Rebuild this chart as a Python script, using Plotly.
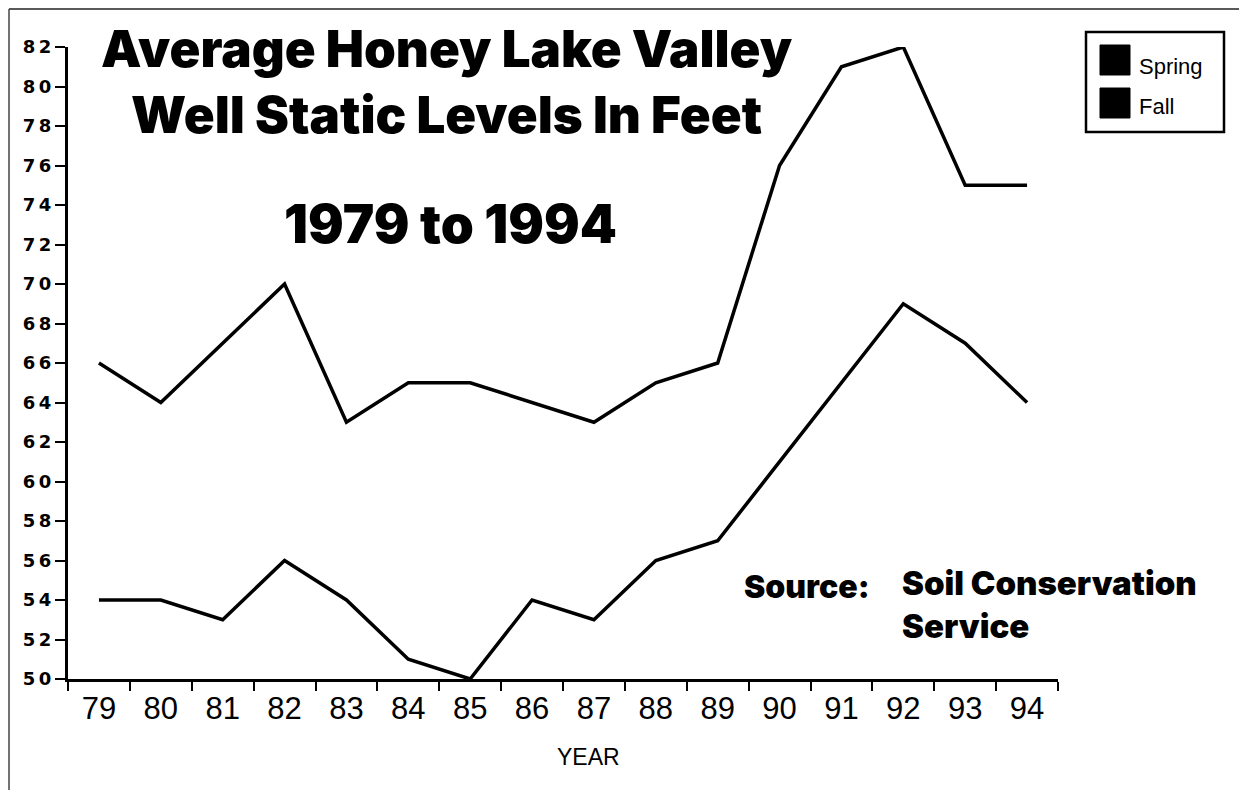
import plotly.graph_objects as go

years = ["79", "80", "81", "82", "83", "84", "85", "86", "87", "88", "89", "90", "91", "92", "93", "94"]
fall = [66, 64, 67, 70, 63, 65, 65, 64, 63, 65, 66, 76, 81, 82, 75, 75]
spring = [54, 54, 53, 56, 54, 51, 50, 54, 53, 56, 57, 61, 65, 69, 67, 64]
series_names = ["Spring", "Fall"]
y_ticks = list(range(50, 84, 2))

OFF = 8  # default page body margin
W, H = 1247 - OFF, 790 - OFF
L, R, T, B = 68 - OFF, 1058 - OFF, 47 - OFF, 679 - OFF


def px(x):
    return (x - OFF - L) / (R - L)


def py(y):
    return (B - (y - OFF)) / (B - T)


fig = go.Figure()
fig.add_trace(go.Scatter(x=years, y=fall, mode="lines", name=series_names[1],
                         line=dict(color="black", width=3.5), showlegend=False))
fig.add_trace(go.Scatter(x=years, y=spring, mode="lines", name=series_names[0],
                         line=dict(color="black", width=3.5), showlegend=False))

heavy = dict(family="Inter, Roboto, Arial Black, sans-serif", color="black", weight=900)
plain = dict(family="Liberation Sans, Arial, sans-serif", color="black")


def note(text, x, y, size, font, anchor="center"):
    return dict(text=text, x=px(x), y=py(y), xref="paper", yref="paper", showarrow=False,
                xanchor=anchor, yanchor="middle", align="center" if anchor == "center" else "left",
                font=dict(size=size, **font))


annotations = [
    note("Average Honey Lake Valley<br>Well Static Levels In Feet", 447, 82, 51, heavy),
    note("1979 to 1994", 450, 224, 53, heavy),
    note("Source:", 742, 586, 32, heavy, "left"),
    note("Soil Conservation<br>Service", 900, 604, 33, heavy, "left"),
    note("YEAR", 588, 757, 23, plain),
]

# legend box drawn manually
shapes = [
    dict(type="rect", xref="paper", yref="paper", x0=px(1086), x1=px(1224), y0=py(32), y1=py(132),
         line=dict(color="black", width=2.5), fillcolor="white"),
    dict(type="rect", xref="paper", yref="paper", x0=px(1100), x1=px(1130), y0=py(45), y1=py(75),
         line=dict(color="black", width=1), fillcolor="black"),
    dict(type="rect", xref="paper", yref="paper", x0=px(1100), x1=px(1130), y0=py(88), y1=py(118),
         line=dict(color="black", width=1), fillcolor="black"),
    # page border
    dict(type="line", xref="paper", yref="paper", x0=px(9), x1=px(1247), y0=py(9), y1=py(9),
         line=dict(color="#222", width=1.5)),
    dict(type="line", xref="paper", yref="paper", x0=px(9), x1=px(9), y0=py(9), y1=py(790),
         line=dict(color="#444", width=1.5)),
]
for name, yy in zip(series_names, [67, 107]):
    annotations.append(note(name, 1137, yy, 22, plain, "left"))

fig.update_layout(
    width=W, height=H,
    margin=dict(l=L, r=W - R, t=T, b=H - B, pad=0),
    paper_bgcolor="white", plot_bgcolor="white",
    annotations=annotations, shapes=shapes,
    showlegend=False,
)
fig.update_xaxes(
    type="category", range=[-0.5, 15.5], showgrid=False, zeroline=False,
    showline=True, linecolor="black", linewidth=3,
    ticks="outside", tickson="boundaries", ticklen=9, tickwidth=2, tickcolor="black",
    tickfont=dict(size=31, **plain),
)
fig.update_yaxes(
    range=[50, 82], showgrid=False, zeroline=False,
    showline=True, linecolor="black", linewidth=3,
    tickvals=y_ticks, ticktext=["\u2009".join(str(v)) for v in y_ticks],
    ticks="outside", ticklen=10, tickwidth=1.5, tickcolor="black",
    tickfont=dict(size=18, family="DejaVu Sans, sans-serif", color="black", weight="bold"),
)

fig.write_html("out.html")
